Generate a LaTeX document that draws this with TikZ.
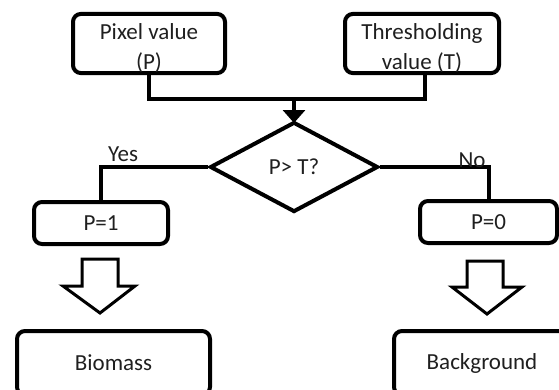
\documentclass[tikz,border=0pt]{standalone}
\usepackage{fontspec}
\setmainfont{Carlito}
\usetikzlibrary{shapes.geometric,arrows.meta}
% invisible strut that pushes a two-line label slightly downwards
\newcommand{\toppad}{\rule{0pt}{26pt}}
\begin{document}
\begin{tikzpicture}[x=1pt,y=-1pt,
  every node/.style={font=\fontsize{23}{30}\selectfont, inner sep=0pt, text=black!88},
  box/.style={draw, line width=4pt, rounded corners=8pt, align=center},
  link/.style={line width=4pt, line join=miter},
  decision/.style={draw, diamond, line width=4pt, aspect=1.87,
    minimum width=168pt, minimum height=90pt},
  hollowarrow/.style={draw, line width=3pt, line join=miter, fill=white},
  tag/.style={inner sep=0pt},
]
\useasboundingbox (0,0) rectangle (559,389);
\clip (0,0) rectangle (559,389);

% inputs
\node[box, minimum width=152pt, minimum height=57pt] (pix) at (149,43.5) {\toppad Pixel value\\(P)};
\node[box, minimum width=154pt, minimum height=57pt] (thr) at (422,43.5) {\toppad Thresholding\\value (T)};

% comparison
\node[decision] (dia) at (294,167) {P> T?};

% binary results
\node[box, minimum width=134pt, minimum height=42pt] (p1) at (101,223) {P=1};
\node[box, minimum width=137pt, minimum height=42pt] (p0) at (488.5,222) {P=0};

% classes
\node[box, minimum width=193pt, minimum height=64pt] (bio) at (113.5,363) {Biomass};
\node[box, minimum width=176pt, minimum height=64pt] (bg) at (482,363) {Background};

% merge of the two inputs into the test
\coordinate (j) at (294,99);
\coordinate (tip) at (294,123);
\draw[link] (pix.south) |- (j) -| ([xshift=3pt]thr.south);
\draw[link, -{Triangle[width=22pt,length=13pt]}] (j) -- (tip);

% branches
\draw[link] (dia.west) -| (p1.north);
\draw[link] (dia.east) -| (p0.north);
\node[tag] (yes) at (123,154) {Yes};
\node[tag] (no) at (472,160) {No};

% hollow block arrows towards the classes
\draw[hollowarrow] (82,259) -- (118,259) -- (118,286) -- (135,286) -- (100,313)
  -- (63,286) -- (82,286) -- cycle;
\draw[hollowarrow] (467,261) -- (503,261) -- (503,287) -- (522,287) -- (487,314)
  -- (452,287) -- (467,287) -- cycle;
\end{tikzpicture}
\end{document}
